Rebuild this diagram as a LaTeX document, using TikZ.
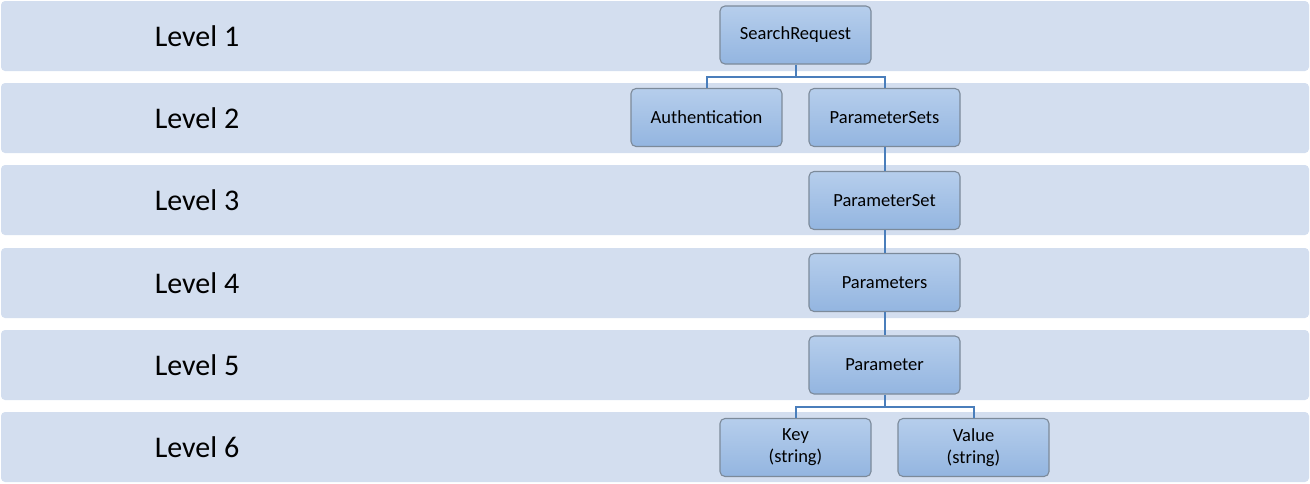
\documentclass[tikz,border=0pt]{standalone}
\usepackage{fontspec}
\setmainfont{Carlito}
\definecolor{bandc}{HTML}{D3DEEF}
\definecolor{boxtop}{HTML}{B6CEEC}
\definecolor{boxbot}{HTML}{93B5E0}
\definecolor{boxedge}{HTML}{7C8A9A}
\definecolor{linkc}{HTML}{4A7EBB}
\tikzset{
  band/.style={fill=bandc, draw=none, rounded corners=4pt},
  lvl/.style={font=\fontsize{30}{36}\selectfont, text=black},
  box/.style={draw=boxedge, line width=1.1pt, rounded corners=5pt,
    top color=boxtop, bottom color=boxbot, minimum width=151pt, minimum height=58pt,
    inner sep=0pt, align=center, font=\fontsize{18.5}{22}\selectfont},
  link/.style={draw=linkc, line width=2pt}
}
\begin{document}
\begin{tikzpicture}[x=1pt,y=-1pt]
\useasboundingbox (0,0) rectangle (1310,483);
% bands
\foreach \t/\n in {1/1,83/2,165/3,248/4,330/5,412/6}{
  \path[band] (1,\t) rectangle (1309,\t+70);
  \node[lvl] (L\n) at (197,\t+35) {Level \n};
}
% nodes
\node[box] (sr) at (795.5,35) {SearchRequest};
\node[box] (au) at (706.5,117.5) {Authentication};
\node[box] (ps) at (884.5,117.5) {ParameterSets};
\node[box] (pset) at (884.5,200.5) {ParameterSet};
\node[box] (pars) at (884.5,282.5) {Parameters};
\node[box] (par) at (884.5,365) {Parameter};
\node[box] (key) at (795.5,447.5) {Key\\(string)};
\node[box] (val) at (973.5,447.5) {Value\\(string)};
% connectors
\coordinate (j1) at (795.5,77);
\coordinate (j2) at (884.5,407);
\draw[link] (sr.south) -- (j1) -| (au.north);
\draw[link] (j1) -| (ps.north);
\draw[link] (ps.south) -- (pset.north);
\draw[link] (pset.south) -- (pars.north);
\draw[link] (pars.south) -- (par.north);
\draw[link] (par.south) -- (j2) -| (key.north);
\draw[link] (j2) -| (val.north);
\end{tikzpicture}
\end{document}
